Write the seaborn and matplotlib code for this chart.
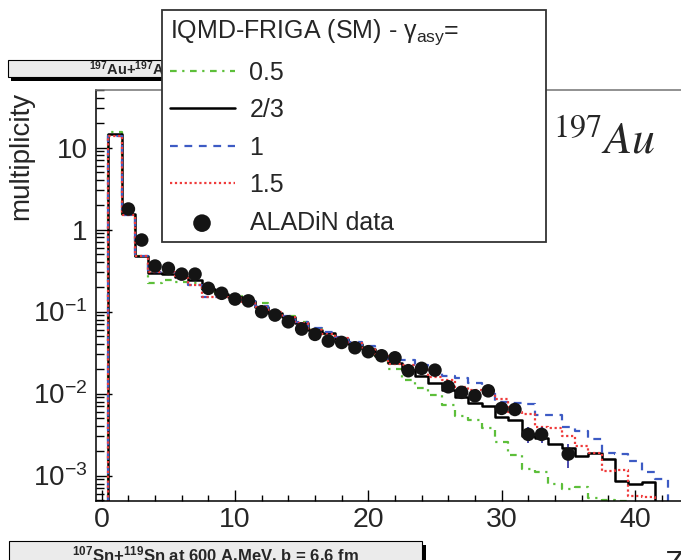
import numpy as np
import pandas as pd
import matplotlib.pyplot as plt
from matplotlib.patches import Rectangle
from matplotlib.ticker import FixedLocator, FixedFormatter, MultipleLocator, LogLocator, NullFormatter
import seaborn as sns

# fragment charge Z (bins centred on integers)
z_bins = list(range(0, 44))

# IQMD-FRIGA (SM) multiplicities per gamma_asy
gamma_05 = [0, 15.3, 1.55, 0.47, 0.22, 0.24, 0.23, 0.22, 0.19, 0.17, 0.155, 0.14, 0.127, 0.10,
            0.088, 0.074, 0.062, 0.054, 0.046, 0.040, 0.032, 0.026, 0.020, 0.0148, 0.0118, 0.0096,
            0.0072, 0.0053, 0.0048, 0.0038, 0.0026, 0.0018, 0.0012, 0.0011, 0.0008, 0.00068,
            0.00073, 0.00053, 0.0005, 0.00049, 0, 0, 0, 0]
gamma_23 = [0, 14.5, 1.55, 0.47, 0.295, 0.29, 0.265, 0.245, 0.19, 0.165, 0.15, 0.135, 0.115, 0.095,
            0.085, 0.072, 0.060, 0.055, 0.046, 0.040, 0.035, 0.029, 0.0238, 0.0194, 0.0163, 0.0133,
            0.011, 0.0091, 0.0077, 0.0071, 0.0052, 0.0048, 0.0030, 0.0029, 0.0024, 0.00215,
            0.00175, 0.0019, 0.0016, 0.00087, 0.00079, 0.00083, 0, 0]
gamma_1 = [0, 13.8, 1.50, 0.47, 0.305, 0.30, 0.26, 0.21, 0.15, 0.15, 0.145, 0.135, 0.118, 0.10,
           0.088, 0.075, 0.063, 0.057, 0.049, 0.043, 0.038, 0.031, 0.0256, 0.0256, 0.0223, 0.0188,
           0.0165, 0.0157, 0.0134, 0.0115, 0.0079, 0.0077, 0.0075, 0.0055, 0.0055, 0.0039,
           0.0035, 0.0028, 0.0019, 0.00183, 0.0015, 0.0011, 0.0009, 0]
gamma_15 = [0, 13.8, 1.50, 0.47, 0.305, 0.30, 0.26, 0.21, 0.15, 0.15, 0.145, 0.13, 0.115, 0.098,
            0.085, 0.072, 0.060, 0.054, 0.047, 0.041, 0.036, 0.030, 0.0228, 0.0223, 0.0208, 0.0161,
            0.0146, 0.0121, 0.011, 0.0101, 0.0085, 0.006, 0.0057, 0.0039, 0.0038, 0.0030,
            0.0023, 0.0019, 0.00114, 0.00116, 0.00056, 0.00055, 0, 0]

# ALADiN data
data_z = list(range(2, 34)) + [35]
data_mult = [1.78, 0.745, 0.359, 0.336, 0.286, 0.286, 0.192, 0.167, 0.142, 0.135, 0.0995, 0.0906,
             0.075, 0.0612, 0.0527, 0.0437, 0.042, 0.0362, 0.0324, 0.0289, 0.0273, 0.019, 0.0203,
             0.0193, 0.0121, 0.01035, 0.0094, 0.0108, 0.0066, 0.0064, 0.00318, 0.00318, 0.00183]
data_err = [0] * 28 + [0.0009, 0.0009, 0.0007, 0.0007, 0.0006]

ytick_vals = [1e-3, 1e-2, 1e-1, 1, 10]
ytick_labels = [r"$10^{-3}$", r"$10^{-2}$", r"$10^{-1}$", "1", "10"]
xtick_vals = [0, 10, 20, 30, 40]

sns.set_theme(style="ticks")
plt.rcParams["font.family"] = ["Liberation Sans", "DejaVu Sans"]
plt.rcParams["mathtext.fontset"] = "custom"
plt.rcParams["mathtext.rm"] = "Liberation Sans"
plt.rcParams["mathtext.it"] = "Liberation Sans:italic"
plt.rcParams["mathtext.bf"] = "Liberation Sans:bold"

W, H = 681, 560
fig = plt.figure(figsize=(W / 100, H / 100), dpi=100)
ax = fig.add_axes([96 / W, 1 - 501 / H, 585 / W, 411.5 / H])

models = [
    (gamma_05, "0.5", "#5dbf3a", (0, (3, 2.5, 1, 2.5)), 1.6),
    (gamma_23, "2/3", "black", "-", 1.8),
    (gamma_1, "1", "#3d5bc4", (0, (3.5, 3)), 1.6),
    (gamma_15, "1.5", "#ef3a3a", (0, (1, 1.2)), 1.6),
]
for vals, lab, col, ls, lw in models:
    sns.lineplot(x=z_bins, y=vals, ax=ax, drawstyle="steps-mid", color=col,
                 linestyle=ls, linewidth=lw, label=lab, zorder=2)

ax.errorbar(data_z, data_mult, yerr=data_err, fmt="none", ecolor="#2b2ba0",
            elinewidth=1.2, capsize=0, zorder=3)
sns.scatterplot(x=data_z, y=data_mult, ax=ax, color="#141414", s=95,
                edgecolor="none", label="ALADiN data", zorder=4)

ax.set_yscale("log")
ax.set_xlim(-0.43, 43.46)
ax.set_ylim(4.9e-4, 51)
ax.yaxis.set_major_locator(FixedLocator(ytick_vals))
ax.yaxis.set_major_formatter(FixedFormatter(ytick_labels))
ax.yaxis.set_minor_locator(LogLocator(base=10, subs=np.arange(2, 10), numticks=30))
ax.yaxis.set_minor_formatter(NullFormatter())
ax.xaxis.set_major_locator(FixedLocator(xtick_vals))
ax.xaxis.set_minor_locator(MultipleLocator(2))
ax.tick_params(axis="x", which="major", direction="in", length=8, width=1, labelsize=20.5, pad=4, color="black")
ax.tick_params(axis="x", which="minor", direction="in", length=4, width=1, color="black")
ax.tick_params(axis="y", which="major", direction="in", length=11.5, width=1, labelsize=20, pad=6, color="black")
ax.tick_params(axis="y", which="minor", direction="in", length=5.8, width=1, color="black")
ax.spines["right"].set_visible(False)
ax.spines["top"].set_color("0.45")
ax.spines["left"].set_color("black")
ax.spines["bottom"].set_color("black")
for s in ["top", "left", "bottom"]:
    ax.spines[s].set_linewidth(1.1)

ax.set_ylabel("multiplicity", fontsize=20)
ax.yaxis.set_label_coords(-0.106, 0.838)
ax.set_xlabel("Z", fontsize=22)
ax.xaxis.set_label_coords(0.973, -0.12)
ax.xaxis.label.set_ha("left")

handles, labels = ax.get_legend_handles_labels()
leg = ax.legend(handles, labels, title=r"IQMD-FRIGA (SM) - γ$_{\mathregular{asy}}$=",
                loc="upper left", bbox_to_anchor=(162 / W, 1 - 10 / H, 384 / W, 0),
                bbox_transform=fig.transFigure, mode="expand", borderaxespad=0,
                fontsize=18, title_fontsize=18, alignment="left", frameon=True,
                fancybox=False, edgecolor="0.2", framealpha=1, handlelength=2.6,
                handletextpad=0.6, labelspacing=0.54, borderpad=0.3, markerscale=1.3)
leg.get_frame().set_linewidth(1.3)
leg.set_zorder(10)

fig.text(553 / W, 1 - 153 / H, r"$^{197}\mathit{Au}$", fontsize=33,
         math_fontfamily="stix", va="baseline", ha="left")


def header_box(x0, y0, x1, y1, text, size, base, z):
    sh = 3.5
    fig.add_artist(Rectangle(((x0 + sh) / W, 1 - (y1 + sh) / H), (x1 - x0) / W, (y1 - y0) / H,
                             transform=fig.transFigure, facecolor="black", edgecolor="none", zorder=z))
    fig.add_artist(Rectangle((x0 / W, 1 - y1 / H), (x1 - x0) / W, (y1 - y0) / H,
                             transform=fig.transFigure, facecolor="#ebebeb", edgecolor="black",
                             lw=0.8, zorder=z))
    fig.text((x0 + x1) / 2 / W, 1 - base / H, text, fontsize=size, fontweight="bold",
             ha="center", va="baseline", zorder=z)


header_box(7.5, 60, 425, 77, r"$^{\mathbf{197}}$Au+$^{\mathbf{197}}$Au at 600 A.MeV, b = 6.6 fm",
           10.5, 75, -1)
header_box(9, 541, 422, 575, r"$^{\mathbf{107}}$Sn+$^{\mathbf{119}}$Sn at 600 A.MeV, b = 6.6 fm",
           12, 561, 5)

fig.savefig("out.png", dpi=100)
